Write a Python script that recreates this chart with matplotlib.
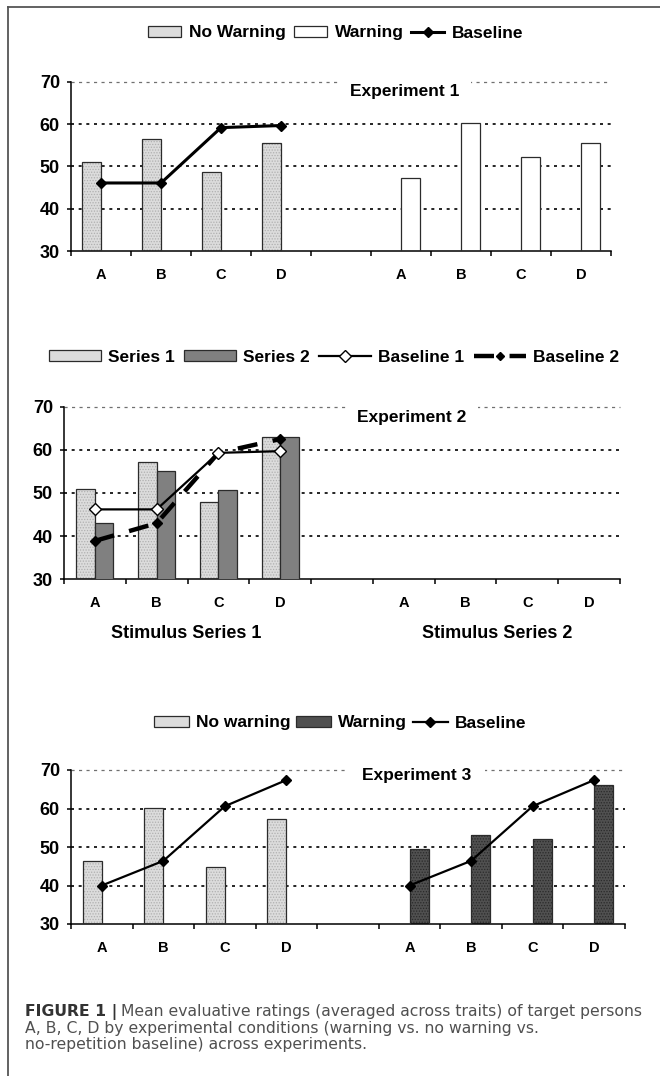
import numpy as np
import matplotlib
matplotlib.use("Agg")
import matplotlib.pyplot as plt
import matplotlib.patches as mpatches
from matplotlib.lines import Line2D

plt.rcParams['font.family'] = ['Liberation Sans', 'DejaVu Sans']
plt.rcParams['font.weight'] = 'bold'
plt.rcParams['hatch.linewidth'] = 0.6

# ---------------- data ----------------
targets = ['A', 'B', 'C', 'D']
tick_labels = ['A', 'B', 'C', 'D', '', 'A', 'B', 'C', 'D']

exp1_no_warning = [51.0, 56.5, 48.8, 55.6]
exp1_warning = [47.2, 60.4, 52.2, 55.6]
exp1_baseline = [46.1, 46.1, 59.2, 59.7]

exp2_series1 = [50.9, 57.3, 47.8, 62.9]
exp2_series2 = [43.1, 55.1, 50.8, 62.9]
exp2_baseline1 = [46.2, 46.2, 59.3, 59.7]
exp2_baseline2 = [38.9, 43.0, 59.3, 62.5]

exp3_no_warning = [46.4, 60.2, 44.9, 57.4]
exp3_warning = [49.5, 53.0, 52.1, 66.2]
exp3_baseline = [40.0, 46.4, 60.6, 67.4]

stimulus_labels = ['Stimulus Series 1', 'Stimulus Series 2']
caption_bold = "FIGURE 1 |"
caption_lines = ["Mean evaluative ratings (averaged across traits) of target persons",
                 "A, B, C, D by experimental conditions (warning vs. no warning vs.",
                 "no-repetition baseline) across experiments."]

# ---------------- layout helpers ----------------
W, H = 660, 1076
fig = plt.figure(figsize=(W / 100, H / 100), dpi=100)
fig.patch.set_facecolor('white')


def fx(px):
    return px / W


def fy(py):
    return 1 - py / H


def make_axes(x0, x1, ytop, ybot):
    return fig.add_axes([fx(x0), fy(ybot), fx(x1) - fx(x0), (ybot - ytop) / H])


left_pos = np.arange(4)
right_pos = np.arange(5, 9)

LIGHT = '#dcdcdc'
LIGHT_H = '#b0b0b0'
MID = '#808080'
DARK = '#505050'
DARK_H = '#2a2a2a'
EDGE = '#2b2b2b'


def setup(ax):
    ax.set_xlim(-0.5, 8.5)
    ax.set_ylim(30, 70)
    ax.set_yticks([30, 40, 50, 60, 70])
    for s in ['top', 'right']:
        ax.spines[s].set_visible(False)
    for s in ['left', 'bottom']:
        ax.spines[s].set_linewidth(1.1)
        ax.spines[s].set_color('black')
    ax.set_xticks(np.arange(-0.5, 9, 1))
    ax.set_xticklabels([])
    ax.set_xticks(np.arange(9), minor=True)
    ax.set_xticklabels(tick_labels, minor=True)
    ax.tick_params(axis='x', which='major', length=3.6, width=1.1, direction='out')
    ax.tick_params(axis='x', which='minor', length=0, pad=12, labelsize=10.5)
    ax.tick_params(axis='y', length=3, width=1.1, pad=5, labelsize=13)
    for v in [40, 50, 60]:
        ax.axhline(v, color='black', lw=1.2, ls=(0, (1.8, 2.8)), zorder=0)
    ax.axhline(70, color='#707070', lw=0.9, ls=(0, (2.5, 3.5)), zorder=0, clip_on=False)
    ax.set_facecolor('none')


def textured_bar(ax, x, h, w, fc, hc, hatch, align_left):
    xs = np.asarray(x) - (w if align_left else 0)
    ax.bar(xs, h, width=w, align='edge', facecolor=fc, edgecolor=hc,
           hatch=hatch, linewidth=0, zorder=2)
    ax.bar(xs, h, width=w, align='edge', fill=False, edgecolor=EDGE,
           linewidth=0.9, zorder=3)


def exp_title(ax, txt, xa, ya, pad):
    ax.text(xa, ya, txt, transform=ax.transAxes, ha='center', va='center',
            fontsize=12.5, weight='bold', zorder=5,
            bbox=dict(facecolor='white', edgecolor='none', pad=pad))


# ---------------- Experiment 1 ----------------
ax1 = make_axes(71, 611, 82, 251)
setup(ax1)
wb = 0.31
textured_bar(ax1, left_pos, exp1_no_warning, wb, LIGHT, LIGHT_H, '......', True)
textured_bar(ax1, right_pos, exp1_warning, wb, 'white', 'white', None, False)
ax1.plot(left_pos, exp1_baseline, color='black', lw=2.2, marker='D', ms=5.5,
         mfc='black', mec='black', zorder=4)
exp_title(ax1, 'Experiment 1', 0.6185, 0.941, 8)

h1 = [mpatches.Patch(facecolor=LIGHT, edgecolor=EDGE, lw=0.9),
      mpatches.Patch(facecolor='white', edgecolor=EDGE, lw=0.9),
      Line2D([], [], color='black', lw=2.2, marker='D', ms=5.5, mfc='black')]
fig.legend(h1, ['No Warning', 'Warning', 'Baseline'], loc='center',
           bbox_to_anchor=(fx(336), fy(33)), ncol=3, frameon=False, fontsize=12.5,
           handlelength=1.9, handleheight=0.55, handletextpad=0.45,
           columnspacing=0.45, borderpad=0, borderaxespad=0)

# ---------------- Experiment 2 ----------------
ax2 = make_axes(64, 620, 406.7, 579.3)
setup(ax2)
w2 = 0.30
textured_bar(ax2, left_pos, exp2_series1, w2, LIGHT, LIGHT_H, '......', True)
ax2.bar(left_pos, exp2_series2, width=w2, align='edge', facecolor=MID,
        edgecolor=EDGE, linewidth=0.9, zorder=3)
ax2.plot(left_pos, exp2_baseline1, color='black', lw=1.6, marker='D', ms=6,
         mfc='white', mec='black', mew=1.0, zorder=5)
ax2.plot(left_pos, exp2_baseline2, color='black', lw=3.2, ls=(0, (4.5, 3.5)),
         marker='D', ms=5, mfc='black', mec='black', zorder=4)
exp_title(ax2, 'Experiment 2', 0.626, 0.940, 8)
for lbl, xc in zip(stimulus_labels, [186, 497]):
    fig.text(fx(xc), fy(633), lbl, ha='center', va='center', fontsize=13,
             weight='bold')

h2 = [mpatches.Patch(facecolor=LIGHT, edgecolor=EDGE, lw=0.9),
      mpatches.Patch(facecolor=MID, edgecolor=EDGE, lw=0.9),
      Line2D([], [], color='black', lw=1.6, marker='D', ms=6, mfc='white', mec='black'),
      Line2D([], [], color='black', lw=3.2, ls=(0, (4.5, 3.5)), marker='D', ms=4.5,
             mfc='black')]
fig.legend(h2, ['Series 1', 'Series 2', 'Baseline 1', 'Baseline 2'], loc='center',
           bbox_to_anchor=(fx(334), fy(357)), ncol=4, frameon=False, fontsize=12.5,
           handlelength=3.0, handleheight=0.55, handletextpad=0.4,
           columnspacing=0.55, borderpad=0, borderaxespad=0)

# ---------------- Experiment 3 ----------------
ax3 = make_axes(71, 625, 770, 924)
setup(ax3)
textured_bar(ax3, left_pos, exp3_no_warning, wb, LIGHT, LIGHT_H, '......', True)
textured_bar(ax3, right_pos, exp3_warning, wb, DARK, DARK_H, '......', False)
ax3.plot(left_pos, exp3_baseline, color='black', lw=1.6, marker='D', ms=5.5,
         mfc='black', mec='black', zorder=4)
ax3.plot(right_pos, exp3_baseline, color='black', lw=1.6, marker='D', ms=5.5,
         mfc='black', mec='black', zorder=4)
exp_title(ax3, 'Experiment 3', 0.6245, 0.9675, 10)

h3 = [mpatches.Patch(facecolor=LIGHT, edgecolor=EDGE, lw=0.9),
      mpatches.Patch(facecolor=DARK, edgecolor=EDGE, lw=0.9),
      Line2D([], [], color='black', lw=1.6, marker='D', ms=5.5, mfc='black')]
fig.legend(h3, ['No warning', 'Warning', 'Baseline'], loc='center',
           bbox_to_anchor=(fx(340), fy(723)), ncol=3, frameon=False, fontsize=12.5,
           handlelength=2.0, handleheight=0.55, handletextpad=0.4,
           columnspacing=0.35, borderpad=0, borderaxespad=0)

# ---------------- caption ----------------
renderer = fig.canvas.get_renderer()
cap_font = ['DejaVu Sans']
cap_size = 11.25
tb = fig.text(fx(25), fy(1016), caption_bold, ha='left', va='baseline',
              fontsize=cap_size, weight='bold', color='#333333', family=cap_font)
bb = tb.get_window_extent(renderer)
fig.text(bb.x1 / W + fx(4), fy(1016), caption_lines[0], ha='left', va='baseline',
         fontsize=cap_size, weight='normal', color='#505050', family=cap_font)
fig.text(fx(25), fy(1032.5), caption_lines[1], ha='left', va='baseline',
         fontsize=cap_size, weight='normal', color='#505050', family=cap_font)
fig.text(fx(25), fy(1049), caption_lines[2], ha='left', va='baseline',
         fontsize=cap_size, weight='normal', color='#505050', family=cap_font)

# ---------------- frame lines ----------------
fig.add_artist(Line2D([fx(8), fx(8)], [fy(7), 0], transform=fig.transFigure,
                      color='#555555', lw=1.3))
fig.add_artist(Line2D([fx(8), 1], [fy(7), fy(7)], transform=fig.transFigure,
                      color='#555555', lw=1.3))

fig.savefig('out.png', dpi=100)
